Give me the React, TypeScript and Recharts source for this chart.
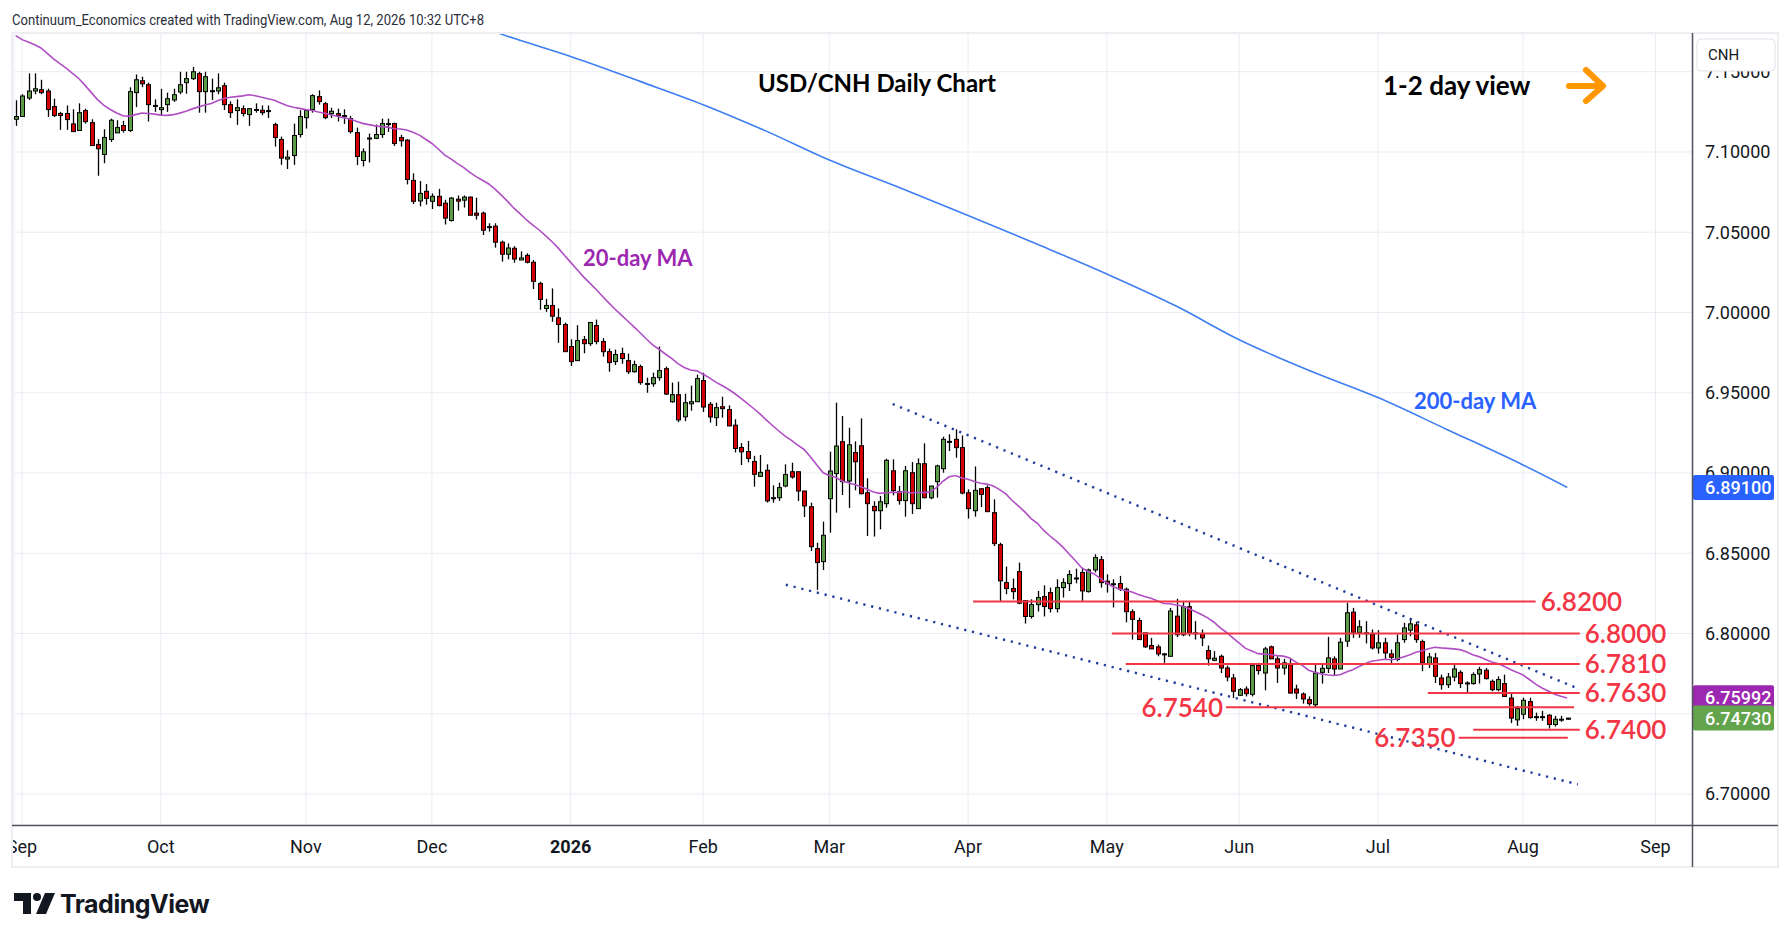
import React from 'react';
import { ComposedChart, Bar, Line, XAxis, YAxis, CartesianGrid, ReferenceLine } from 'recharts';

// one bar per trading day, [open, high, low, close]; bar 1 = 29 Aug 2025
const aug25 = [[7.1204, 7.1322, 7.1163, 7.1221]];
const sep25 = [
    [7.1221, 7.1360, 7.1221, 7.1349], [7.1336, 7.1490, 7.1324, 7.1380], [7.1380, 7.1490, 7.1360, 7.1394],
    [7.1388, 7.1450, 7.1360, 7.1370], [7.1380, 7.1394, 7.1218, 7.1264], [7.1283, 7.1332, 7.1218, 7.1227],
    [7.1240, 7.1250, 7.1138, 7.1227], [7.1240, 7.1290, 7.1138, 7.1202], [7.1175, 7.1266, 7.1127, 7.1127],
    [7.1134, 7.1303, 7.1134, 7.1245], [7.1258, 7.1270, 7.1177, 7.1189], [7.1183, 7.1204, 7.1040, 7.1040],
    [7.1047, 7.1080, 7.0852, 7.1020], [7.0985, 7.1142, 7.0930, 7.1091], [7.1078, 7.1208, 7.1063, 7.1198],
    [7.1119, 7.1198, 7.1119, 7.1152], [7.1165, 7.1194, 7.1121, 7.1134], [7.1134, 7.1403, 7.1125, 7.1376],
    [7.1370, 7.1483, 7.1280, 7.1450], [7.1444, 7.1469, 7.1405, 7.1425], [7.1419, 7.1432, 7.1190, 7.1295],
    [7.1289, 7.1328, 7.1250, 7.1290],
];
const oct25 = [
    [7.1264, 7.1394, 7.1225, 7.1276], [7.1295, 7.1370, 7.1250, 7.1332], [7.1324, 7.1394, 7.1312, 7.1357],
    [7.1374, 7.1500, 7.1360, 7.1419], [7.1432, 7.1500, 7.1363, 7.1457], [7.1457, 7.1530, 7.1448, 7.1500],
    [7.1488, 7.1500, 7.1245, 7.1376], [7.1376, 7.1500, 7.1245, 7.1469], [7.1382, 7.1457, 7.1324, 7.1380],
    [7.1380, 7.1490, 7.1360, 7.1400], [7.1413, 7.1432, 7.1262, 7.1295], [7.1295, 7.1316, 7.1212, 7.1245],
    [7.1258, 7.1328, 7.1169, 7.1276], [7.1270, 7.1290, 7.1221, 7.1240], [7.1233, 7.1270, 7.1163, 7.1270],
    [7.1264, 7.1303, 7.1245, 7.1265], [7.1260, 7.1290, 7.1229, 7.1245], [7.1258, 7.1290, 7.1212, 7.1258],
    [7.1171, 7.1183, 7.1034, 7.1090], [7.1078, 7.1096, 7.0920, 7.0962], [7.0956, 7.1011, 7.0894, 7.0968],
    [7.0978, 7.1177, 7.0920, 7.1103], [7.1109, 7.1260, 7.1090, 7.1221],
];
const nov25 = [
    [7.1214, 7.1260, 7.1146, 7.1258], [7.1264, 7.1360, 7.1245, 7.1351], [7.1345, 7.1384, 7.1295, 7.1314],
    [7.1301, 7.1312, 7.1204, 7.1214], [7.1239, 7.1276, 7.1212, 7.1254], [7.1239, 7.1270, 7.1190, 7.1227],
    [7.1227, 7.1266, 7.1175, 7.1227], [7.1208, 7.1225, 7.1115, 7.1127], [7.1121, 7.1152, 7.0918, 7.0972],
    [7.0947, 7.1022, 7.0910, 7.1001], [7.1085, 7.1115, 7.0935, 7.1087], [7.1085, 7.1171, 7.1080, 7.1109],
    [7.1109, 7.1208, 7.1088, 7.1177], [7.1177, 7.1208, 7.1125, 7.1177], [7.1177, 7.1183, 7.1038, 7.1053],
    [7.1090, 7.1107, 7.1034, 7.1070], [7.1074, 7.1080, 7.0798, 7.0829], [7.0823, 7.0867, 7.0676, 7.0693],
    [7.0695, 7.0819, 7.0662, 7.0742], [7.0755, 7.0800, 7.0672, 7.0711],
];
const dec25 = [
    [7.0693, 7.0742, 7.0645, 7.0724], [7.0724, 7.0770, 7.0662, 7.0666], [7.0681, 7.0702, 7.0548, 7.0588],
    [7.0573, 7.0719, 7.0567, 7.0713], [7.0706, 7.0729, 7.0635, 7.0694], [7.0700, 7.0729, 7.0654, 7.0719],
    [7.0719, 7.0723, 7.0606, 7.0606], [7.0619, 7.0715, 7.0579, 7.0606], [7.0619, 7.0629, 7.0483, 7.0513],
    [7.0535, 7.0556, 7.0504, 7.0535], [7.0538, 7.0556, 7.0404, 7.0438], [7.0438, 7.0448, 7.0317, 7.0363],
    [7.0363, 7.0431, 7.0331, 7.0402], [7.0400, 7.0413, 7.0310, 7.0333], [7.0327, 7.0381, 7.0327, 7.0340],
    [7.0356, 7.0369, 7.0306, 7.0313], [7.0313, 7.0327, 7.0146, 7.0194], [7.0181, 7.0192, 7.0017, 7.0081],
    [7.0025, 7.0085, 7.0004, 7.0044], [7.0044, 7.0150, 6.9942, 6.9977], [6.9967, 7.0025, 6.9811, 6.9925],
    [6.9925, 6.9937, 6.9756, 6.9756],
];
const jan26 = [
    [6.9788, 6.9833, 6.9667, 6.9694], [6.9700, 6.9921, 6.9700, 6.9825], [6.9831, 6.9854, 6.9746, 6.9806],
    [6.9806, 6.9938, 6.9792, 6.9938], [6.9919, 6.9956, 6.9802, 6.9819], [6.9819, 6.9840, 6.9725, 6.9756],
    [6.9756, 6.9775, 6.9631, 6.9688], [6.9694, 6.9769, 6.9673, 6.9738], [6.9744, 6.9781, 6.9681, 6.9713],
    [6.9700, 6.9744, 6.9617, 6.9631], [6.9631, 6.9700, 6.9625, 6.9675], [6.9663, 6.9675, 6.9550, 6.9563],
    [6.9556, 6.9594, 6.9500, 6.9558], [6.9556, 6.9625, 6.9538, 6.9594], [6.9594, 6.9788, 6.9575, 6.9638],
    [6.9650, 6.9663, 6.9486, 6.9492], [6.9444, 6.9563, 6.9438, 6.9488], [6.9488, 6.9569, 6.9317, 6.9331],
    [6.9350, 6.9494, 6.9323, 6.9438], [6.9431, 6.9544, 6.9388, 6.9444], [6.9444, 6.9613, 6.9444, 6.9588],
];
const feb26 = [
    [6.9576, 6.9624, 6.9380, 6.9411], [6.9428, 6.9442, 6.9314, 6.9349], [6.9345, 6.9438, 6.9293, 6.9407],
    [6.9413, 6.9475, 6.9345, 6.9401], [6.9395, 6.9421, 6.9293, 6.9293], [6.9298, 6.9335, 6.9128, 6.9153],
    [6.9159, 6.9186, 6.9050, 6.9132], [6.9134, 6.9200, 6.9066, 6.9091], [6.9072, 6.9107, 6.8915, 6.8992],
    [6.8979, 6.9112, 6.8979, 6.9004], [6.9017, 6.9054, 6.8816, 6.8826], [6.8846, 6.8923, 6.8815, 6.8846],
    [6.8846, 6.8940, 6.8826, 6.8909], [6.8919, 6.9054, 6.8911, 6.8990], [6.9008, 6.9064, 6.8965, 6.8975],
    [6.9008, 6.9008, 6.8826, 6.8888], [6.8888, 6.8888, 6.8726, 6.8795], [6.8790, 6.8815, 6.8514, 6.8541],
    [6.8529, 6.8566, 6.8272, 6.8442], [6.8448, 6.8697, 6.8396, 6.8612],
];
const mar26 = [
    [6.8840, 6.9133, 6.8628, 6.9012], [6.8996, 6.9438, 6.8753, 6.9168], [6.9195, 6.9355, 6.8863, 6.8946],
    [6.8950, 6.9282, 6.8782, 6.9176], [6.9127, 6.9197, 6.8892, 6.9070], [6.9170, 6.9340, 6.8867, 6.8871],
    [6.8877, 6.8967, 6.8608, 6.8809], [6.8792, 6.8824, 6.8604, 6.8765], [6.8765, 6.8857, 6.8649, 6.8821],
    [6.8809, 6.9089, 6.8784, 6.9079], [6.9014, 6.9085, 6.8861, 6.8890], [6.8884, 6.8919, 6.8803, 6.8828],
    [6.8828, 6.9044, 6.8728, 6.9014], [6.9002, 6.9068, 6.8745, 6.8809], [6.8778, 6.9091, 6.8778, 6.9058],
    [6.9058, 6.9185, 6.8842, 6.8846], [6.8846, 6.8919, 6.8836, 6.8919], [6.8946, 6.9052, 6.8846, 6.9044],
    [6.9027, 6.9226, 6.9002, 6.9210], [6.9197, 6.9241, 6.9137, 6.9197], [6.9210, 6.9272, 6.9095, 6.9158],
    [6.9158, 6.9234, 6.8867, 6.8875],
];
const apr26 = [
    [6.8877, 6.8898, 6.8716, 6.8778], [6.8765, 6.9041, 6.8728, 6.8892], [6.8902, 6.8902, 6.8788, 6.8867],
    [6.8909, 6.8923, 6.8759, 6.8759], [6.8753, 6.8836, 6.8545, 6.8560], [6.8554, 6.8566, 6.8203, 6.8328],
    [6.8317, 6.8417, 6.8245, 6.8280], [6.8280, 6.8342, 6.8213, 6.8261], [6.8386, 6.8442, 6.8182, 6.8189],
    [6.8205, 6.8205, 6.8062, 6.8106], [6.8106, 6.8213, 6.8093, 6.8180], [6.8180, 6.8265, 6.8137, 6.8224],
    [6.8230, 6.8300, 6.8106, 6.8168], [6.8255, 6.8286, 6.8131, 6.8155], [6.8155, 6.8338, 6.8131, 6.8286],
    [6.8286, 6.8344, 6.8224, 6.8317], [6.8311, 6.8394, 6.8265, 6.8367], [6.8346, 6.8404, 6.8313, 6.8346],
    [6.8380, 6.8406, 6.8203, 6.8265], [6.8261, 6.8404, 6.8255, 6.8396], [6.8396, 6.8494, 6.8380, 6.8473],
    [6.8460, 6.8483, 6.8286, 6.8317],
];
const may26 = [
    [6.8326, 6.8369, 6.8255, 6.8309], [6.8309, 6.8338, 6.8162, 6.8310], [6.8311, 6.8359, 6.8265, 6.8276],
    [6.8276, 6.8286, 6.8070, 6.8136], [6.8136, 6.8151, 6.7962, 6.8088], [6.8081, 6.8098, 6.7962, 6.7962],
    [6.8004, 6.8004, 6.7910, 6.7917], [6.7925, 6.7973, 6.7904, 6.7904], [6.7917, 6.7931, 6.7858, 6.7873],
    [6.7873, 6.7879, 6.7817, 6.7873], [6.7858, 6.8160, 6.7858, 6.8140], [6.8108, 6.8217, 6.7977, 6.7992],
    [6.7992, 6.8196, 6.7983, 6.8167], [6.8167, 6.8196, 6.7983, 6.8004], [6.8004, 6.8077, 6.7962, 6.8000],
    [6.8000, 6.8025, 6.7921, 6.7973], [6.7894, 6.7925, 6.7800, 6.7842], [6.7833, 6.7890, 6.7827, 6.7846],
    [6.7858, 6.7869, 6.7754, 6.7785], [6.7785, 6.7800, 6.7702, 6.7729], [6.7723, 6.7748, 6.7598, 6.7640],
];
const jun26 = [
    [6.7615, 6.7660, 6.7613, 6.7650], [6.7654, 6.7671, 6.7608, 6.7625], [6.7621, 6.7817, 6.7608, 6.7800],
    [6.7800, 6.7817, 6.7744, 6.7769], [6.7754, 6.7917, 6.7646, 6.7904], [6.7917, 6.7925, 6.7842, 6.7842],
    [6.7842, 6.7858, 6.7692, 6.7785], [6.7785, 6.7842, 6.7744, 6.7817], [6.7810, 6.7842, 6.7625, 6.7629],
    [6.7654, 6.7681, 6.7592, 6.7629], [6.7623, 6.7633, 6.7563, 6.7592], [6.7588, 6.7608, 6.7550, 6.7563],
    [6.7556, 6.7813, 6.7542, 6.7754], [6.7758, 6.7810, 6.7688, 6.7783], [6.7783, 6.7979, 6.7754, 6.7848],
    [6.7842, 6.7858, 6.7738, 6.7779], [6.7779, 6.7973, 6.7779, 6.7946], [6.7952, 6.8192, 6.7917, 6.8129],
    [6.8133, 6.8160, 6.7973, 6.8008], [6.8004, 6.8083, 6.7973, 6.8042], [6.8004, 6.8077, 6.7938, 6.8004],
    [6.7994, 6.8025, 6.7900, 6.7910],
];
const jul26 = [
    [6.7910, 6.8021, 6.7875, 6.7942], [6.7942, 6.7973, 6.7842, 6.7879], [6.7873, 6.7900, 6.7817, 6.7852],
    [6.7838, 6.7994, 6.7827, 6.7942], [6.7962, 6.8067, 6.7942, 6.8035], [6.8021, 6.8098, 6.7983, 6.8060],
    [6.8054, 6.8073, 6.7942, 6.7962], [6.7950, 6.7962, 6.7765, 6.7817], [6.7810, 6.7879, 6.7785, 6.7854],
    [6.7848, 6.7879, 6.7692, 6.7733], [6.7723, 6.7744, 6.7650, 6.7681], [6.7681, 6.7754, 6.7660, 6.7729],
    [6.7729, 6.7810, 6.7702, 6.7779], [6.7758, 6.7771, 6.7660, 6.7688], [6.7692, 6.7702, 6.7633, 6.7692],
    [6.7688, 6.7758, 6.7681, 6.7744], [6.7748, 6.7792, 6.7688, 6.7775], [6.7771, 6.7785, 6.7713, 6.7719],
    [6.7702, 6.7713, 6.7640, 6.7650], [6.7650, 6.7733, 6.7640, 6.7713], [6.7688, 6.7744, 6.7604, 6.7608],
    [6.7598, 6.7629, 6.7442, 6.7473], [6.7462, 6.7549, 6.7425, 6.7532],
];
const aug26 = [
    [6.7497, 6.7600, 6.7466, 6.7584], [6.7576, 6.7600, 6.7470, 6.7476], [6.7482, 6.7507, 6.7456, 6.7482],
    [6.7482, 6.7518, 6.7456, 6.7482], [6.7491, 6.7497, 6.7408, 6.7433], [6.7433, 6.7487, 6.7420, 6.7466],
    [6.7466, 6.7487, 6.7450, 6.7466], [6.7466, 6.7474, 6.7462, 6.7473],
];

// 20-day MA before there are 20 closes on the chart
const ma20Head = [
    7.1725, 7.1700, 7.1685, 7.1668, 7.1648, 7.1615, 7.1580, 7.1550, 7.1522, 7.1490,
    7.1458, 7.1415, 7.1370, 7.1325, 7.1290, 7.1265, 7.1243, 7.1226, 7.1222,
];
// 200-day MA, [bar, value]
const ma200Pts = [
    [70, 7.1845], [80, 7.1708], [89, 7.1595], [100, 7.1440], [110, 7.1295], [120, 7.1130],
    [130, 7.0950], [141, 7.0780], [152, 7.0605], [163, 7.0425], [174, 7.0240], [185, 7.0040],
    [195, 6.9830], [206, 6.9640], [217, 6.9470], [228, 6.9270], [240, 6.9050], [247, 6.8910],
];

const monthTicks = [2, 24, 47, 67, 89, 110, 130, 152, 174, 195, 217, 240, 261];
const monthLabels = ['Sep', 'Oct', 'Nov', 'Dec', '2026', 'Feb', 'Mar', 'Apr', 'May', 'Jun', 'Jul', 'Aug', 'Sep'];
const priceTicks = [6.7, 6.75, 6.8, 6.85, 6.9, 6.95, 7.0, 7.05, 7.1, 7.15];

const levels = [
    { price: 6.82, from: 152.8, to: 242.0, text: '6.8200', side: 'right' },
    { price: 6.80, from: 174.8, to: 249.0, text: '6.8000', side: 'right' },
    { price: 6.781, from: 177.0, to: 249.0, text: '6.7810', side: 'right' },
    { price: 6.763, from: 224.9, to: 249.0, text: '6.7630', side: 'right' },
    { price: 6.754, from: 192.9, to: 248.1, text: '6.7540', side: 'left' },
    { price: 6.74, from: 232.1, to: 249.0, text: '6.7400', side: 'right' },
    { price: 6.735, from: 229.8, to: 247.1, text: '6.7350', side: 'left' },
];
const channel = [
    [{ x: 140.05, y: 6.943 }, { x: 248.9, y: 6.7654 }],
    [{ x: 123.1, y: 6.8304 }, { x: 248.7, y: 6.706 }],
];
const tags = [
    { value: 6.891, color: '#2962ff' },
    { value: 6.75992, color: '#9c27b0' },
    { value: 6.7473, color: '#62a34b' },
];

const UP = '#5b9b45';
const DOWN = '#d40000';
const RED = '#f23645';
const X_DOMAIN = [0.73, 266.95];
const Y_DOMAIN = [6.68069, 7.17414];

const ohlc = [...aug25, ...sep25, ...oct25, ...nov25, ...dec25, ...jan26, ...feb26, ...mar26, ...apr26, ...may26, ...jun26, ...jul26, ...aug26];
const closes = ohlc.map((b) => b[3]);
const ma200Map = new Map(ma200Pts.map(([i, v]) => [i, v]));

const rows = ohlc.map(([o, h, l, c], k) => {
    const i = k + 1;
    const ma20 = k < 19 ? ma20Head[k] : closes.slice(k - 19, k + 1).reduce((s, v) => s + v, 0) / 20;
    return { i, o, h, l, c, range: [l, h], ma20, ma200: ma200Map.has(i) ? ma200Map.get(i) : null };
});

const Candle = (props: any) => {
    const { x, y, width, height, payload } = props;
    if (x == null || !payload) return null;
    const { o, h, l, c } = payload;
    const top = Math.min(y, y + height);
    const span = Math.abs(height);
    const cx = Math.round(x + width / 2) + 0.5;
    const py = (v: number) => top + ((h - v) / (h - l || 1e-9)) * span;
    const bTop = py(Math.max(o, c));
    const bBot = py(Math.min(o, c));
    const bh = Math.max(bBot - bTop, 1);
    return (
        <g>
            <line x1={cx} x2={cx} y1={top} y2={top + span} stroke="#000" strokeWidth={1.3} />
            <rect x={cx - 2} y={bTop} width={4} height={bh} fill={c >= o ? UP : DOWN} stroke="#000" strokeWidth={1} />
        </g>
    );
};

const MonthTick = (props: any) => {
    const { x, y, payload } = props;
    const label = monthLabels[monthTicks.indexOf(payload.value)];
    return (
        <text x={x} y={y + 28} textAnchor="middle" fontSize={18} fontFamily="Roboto" fill="#131722" fontWeight={label === '2026' ? 700 : 400}>
            {label}
        </text>
    );
};

const tagLabel = (color: string, value: number) => (props: any) => {
    const vb = props.viewBox || {};
    const right = vb.x + vb.width;
    const yy = vb.y + (vb.height || 0) / 2;
    return (
        <g>
            <rect x={right} y={yy - 12.5} width={81} height={25} rx={2} fill={color} />
            <text x={right + 12} y={yy + 6.5} fontSize={18} fontFamily="Roboto" fontWeight={500} fill="#fff">{value.toFixed(5)}</text>
        </g>
    );
};

export default function App() {
    return (
        <div style={{ position: 'fixed', left: 0, top: 0, width: 1792, height: 942, background: '#fff' }}>
            <div style={{ position: 'absolute', left: 0, top: 0 }}>
                <ComposedChart width={1792} height={942} data={rows} margin={{ top: 33, right: 15, bottom: 77, left: 14 }}>
                    <CartesianGrid stroke="#e8edf3" />
                    <XAxis
                        type="number"
                        dataKey="i"
                        domain={X_DOMAIN}
                        allowDataOverflow
                        ticks={monthTicks}
                        interval={0}
                        tick={<MonthTick />}
                        tickLine={false}
                        axisLine={false}
                        tickSize={0}
                        tickMargin={0}
                        height={40}
                    />
                    <YAxis
                        orientation="right"
                        type="number"
                        domain={Y_DOMAIN}
                        allowDataOverflow
                        ticks={priceTicks}
                        interval={0}
                        tickFormatter={(v) => Number(v).toFixed(5)}
                        tick={{ fill: '#131722', fontSize: 18, fontFamily: 'Roboto' }}
                        tickLine={false}
                        axisLine={false}
                        tickSize={0}
                        tickMargin={12}
                        width={84}
                    />
                    <Line type="monotone" dataKey="ma200" stroke="#3d7ef2" strokeWidth={1.6} dot={false} connectNulls isAnimationActive={false} />
                    <Line type="linear" dataKey="ma20" stroke="#b04fc4" strokeWidth={1.6} dot={false} isAnimationActive={false} />
                    {channel.map((seg, k) => (
                        <ReferenceLine key={`ch-${k}`} segment={seg} stroke="#1f3c9c" strokeWidth={2.4} strokeDasharray="2.2 5.8" ifOverflow="visible" />
                    ))}
                    {levels.map((lv) => (
                        <ReferenceLine
                            key={lv.text}
                            segment={[{ x: lv.from, y: lv.price }, { x: lv.to, y: lv.price }]}
                            stroke={RED}
                            strokeWidth={2}
                            ifOverflow="visible"
                            label={{
                                value: lv.text,
                                position: lv.side,
                                offset: lv.side === 'left' ? 3 : 5,
                                fill: RED,
                                fontSize: 26,
                                fontWeight: 600,
                                fontFamily: 'Lato',
                            }}
                        />
                    ))}
                    <Bar dataKey="range" barSize={5} shape={<Candle />} isAnimationActive={false} />
                </ComposedChart>
            </div>
            {/* second layer with the same scales, so the price tags sit above the axis labels */}
            <div style={{ position: 'absolute', left: 0, top: 0 }}>
                <ComposedChart width={1792} height={942} data={rows} margin={{ top: 33, right: 99, bottom: 117, left: 14 }}>
                    <XAxis type="number" dataKey="i" domain={X_DOMAIN} allowDataOverflow hide />
                    <YAxis type="number" domain={Y_DOMAIN} allowDataOverflow hide />
                    {tags.map((t) => (
                        <ReferenceLine key={`tag-${t.value}`} y={t.value} stroke="none" label={tagLabel(t.color, t.value)} />
                    ))}
                </ComposedChart>
            </div>
            <svg width={1792} height={942} style={{ position: 'absolute', left: 0, top: 0, pointerEvents: 'none' }}>
                <rect x={0} y={826} width={12} height={40} fill="#fff" />
                <rect x={12} y={33} width={1766} height={834} fill="none" stroke="#eceef1" strokeWidth={2} />
                <line x1={12} x2={1778} y1={825.5} y2={825.5} stroke="#50535e" strokeWidth={1.5} />
                <line x1={1692.5} x2={1692.5} y1={33} y2={867} stroke="#50535e" strokeWidth={1.5} />
                <text x={12} y={25} fontSize={15} fontFamily="Roboto" fill="#2a2e39" textLength={472} lengthAdjust="spacingAndGlyphs">
                    Continuum_Economics created with TradingView.com, Aug 12, 2026 10:32 UTC+8
                </text>
                <text x={758} y={92} fontSize={24} fontFamily="Lato" fontWeight={700} fill="#000">USD/CNH Daily Chart</text>
                <text x={1383} y={95} fontSize={26} fontFamily="Lato" fontWeight={700} fill="#000">1-2 day view</text>
                <path d="M1569 86 H1601 M1586 70 L1603 86 L1586 101" fill="none" stroke="#ff9800" strokeWidth={6} strokeLinecap="round" strokeLinejoin="round" />
                <text x={583} y={266} fontSize={22} fontFamily="Lato" fontWeight={700} fill="#9c27b0">20-day MA</text>
                <text x={1414} y={409} fontSize={22} fontFamily="Lato" fontWeight={700} fill="#2962ff">200-day MA</text>
                <rect x={1697} y={39} width={78} height={32} rx={4} fill="#fff" stroke="#e0e3eb" />
                <text x={1708} y={60} fontSize={15} fontFamily="Roboto" fill="#131722">CNH</text>
                <path d="M14 893 H31 V914 H23 V901 H14 Z" fill="#131722" />
                <circle cx={37} cy={897} r={4} fill="#131722" />
                <path d="M45 893 H55 L46 914 H36 Z" fill="#131722" />
                <text x={60} y={913} fontSize={25} fontFamily="Inter" fontWeight={700} fill="#131722" letterSpacing={-0.5}>TradingView</text>
            </svg>
        </div>
    );
}
